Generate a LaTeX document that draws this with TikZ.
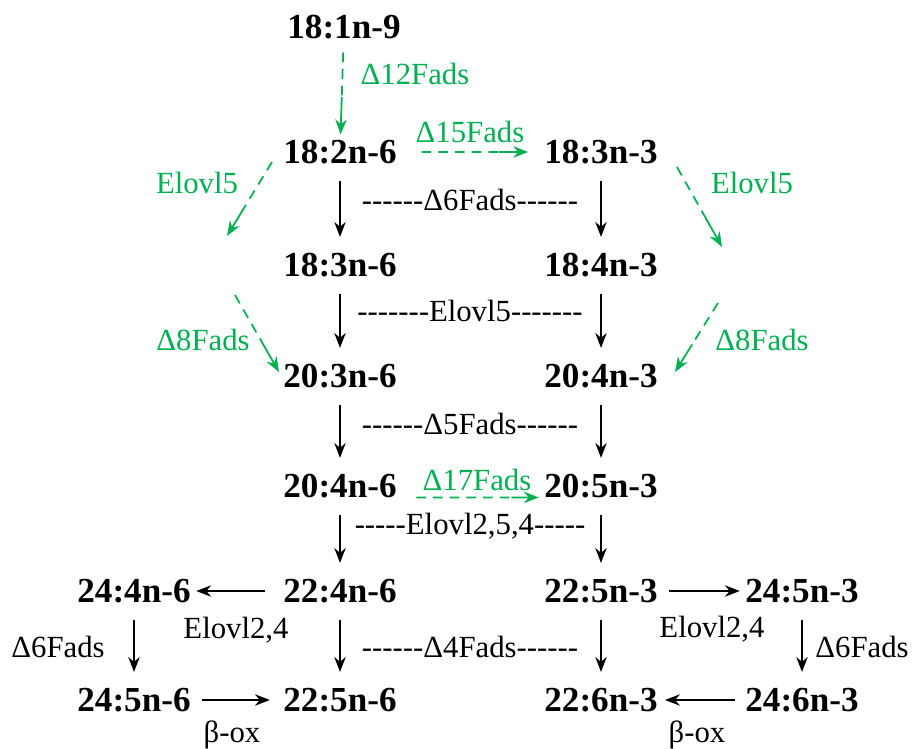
\documentclass[tikz,border=0pt]{standalone}
\usepackage{fontspec}
\setmainfont{Liberation Serif}[Ligatures=TeXOff]
\usetikzlibrary{arrows.meta,calc}
\definecolor{EnzGreen}{HTML}{00B050}

\tikzset{
  fa/.style={font=\fontsize{20}{23}\selectfont\bfseries, inner sep=3pt},
  enz/.style={font=\fontsize{17.5}{20}\selectfont, inner sep=1pt},
  genz/.style={enz, text=EnzGreen},
  conv/.style={-{Stealth[length=8.5pt,width=6.5pt]}, line width=0.9pt, shorten <=6.5pt, shorten >=6pt},
  gdash/.style={EnzGreen, line width=1pt, dash pattern=on 5.5pt off 4pt},
  gsolid/.style={EnzGreen, line width=1pt, -{Stealth[length=8.5pt,width=6.5pt]}}
}

\begin{document}
\begin{tikzpicture}[x=0.02cm, y=-0.02cm]
\useasboundingbox (0,0) rectangle (918,749);

% Fatty acids
\node[fa] (n1819) at (344,27) {18:1n-9};
\node[fa] (n1826) at (340,152) {18:2n-6};
\node[fa] (n1833) at (601,152) {18:3n-3};
\node[fa] (n1836) at (340,265) {18:3n-6};
\node[fa] (n1843) at (601,265) {18:4n-3};
\node[fa] (n2036) at (340,376) {20:3n-6};
\node[fa] (n2043) at (601,376) {20:4n-3};
\node[fa] (n2046) at (340,486) {20:4n-6};
\node[fa] (n2053) at (601,486) {20:5n-3};
\node[fa] (n2246) at (340,591) {22:4n-6};
\node[fa] (n2253) at (601,591) {22:5n-3};
\node[fa] (n2446) at (134,591) {24:4n-6};
\node[fa] (n2453) at (802,591) {24:5n-3};
\node[fa] (n2456) at (134,700) {24:5n-6};
\node[fa] (n2256) at (340,700) {22:5n-6};
\node[fa] (n2263) at (601,700) {22:6n-3};
\node[fa] (n2463) at (802,700) {24:6n-3};

% Main pathway (black)
\foreach \a/\b in {n1826/n1836, n1833/n1843, n1836/n2036, n1843/n2043,
                   n2036/n2046, n2043/n2053, n2046/n2246, n2053/n2253,
                   n2246/n2256, n2253/n2263, n2446/n2456, n2453/n2463}
  \draw[conv] (\a) -- (\b);

\draw[conv, shorten <=7pt, shorten >=0pt] (n2246) -- (n2446);
\draw[conv, shorten <=3.5pt, shorten >=4.5pt] (n2456) -- (n2256);
\draw[conv, shorten <=3pt, shorten >=0pt] (n2253) -- (n2453);
\draw[conv, shorten <=3pt, shorten >=1pt] (n2463) -- (n2263);

% Enzymes between the columns
\node[enz] (d6) at (470,200) {------Δ6Fads------};
\node[enz] (e5) at (470,311) {-------Elovl5-------};
\node[enz] (d5) at (470,424) {------Δ5Fads------};
\node[enz] (e254) at (470,526) {-----Elovl2,5,4-----};
\node[enz] (d4) at (470,647) {------Δ4Fads------};

\node[enz] (e24a) at (236,630) {Elovl2,4};
\node[enz] (d6a) at (58,647) {Δ6Fads};
\node[enz] (boxa) at (232,735) {β-ox};
\node[enz] (e24b) at (712,629) {Elovl2,4};
\node[enz] (d6b) at (862,647) {Δ6Fads};
\node[enz] (boxb) at (697,735) {β-ox};

% Alternative steps (green)
\draw[gdash, shorten <=4.5pt] (n1819) -- ($(n1819)!0.56!(n1826)$);
\draw[gsolid] ($(n1819)!0.56!(n1826)$) -- (n1826);
\draw[gdash, shorten <=11pt] (n1826) -- ($(n1826)!0.61!(n1833)$);
\draw[gsolid, shorten >=6pt] ($(n1826)!0.61!(n1833)$) -- (n1833);
\draw[gdash, shorten <=8pt] (n2046.base east) -- ($(n2046.base east)!0.8!(n2053.base west)$);
\draw[gsolid] ($(n2046.base east)!0.8!(n2053.base west)$) -- (n2053.base west);

\coordinate (l1) at (272,162); \coordinate (l2) at (227,236);
\coordinate (r1) at (677,167); \coordinate (r2) at (722,247);
\coordinate (l3) at (235,295); \coordinate (l4) at (279,372);
\coordinate (r3) at (718,303); \coordinate (r4) at (675,372);
\foreach \s/\e in {l1/l2, r1/r2, l3/l4, r3/r4} {
  \draw[gdash] (\s) -- ($(\s)!0.6!(\e)$);
  \draw[gsolid] ($(\s)!0.6!(\e)$) -- (\e);
}

\node[genz] (d12) at (415,74) {Δ12Fads};
\node[genz] (d15) at (470,132) {Δ15Fads};
\node[genz] (e5l) at (197,183) {Elovl5};
\node[genz] (e5r) at (752,183) {Elovl5};
\node[genz] (d8l) at (203,340) {Δ8Fads};
\node[genz] (d8r) at (762,340) {Δ8Fads};
\node[genz] (d17) at (477,480) {Δ17Fads};
\end{tikzpicture}
\end{document}
